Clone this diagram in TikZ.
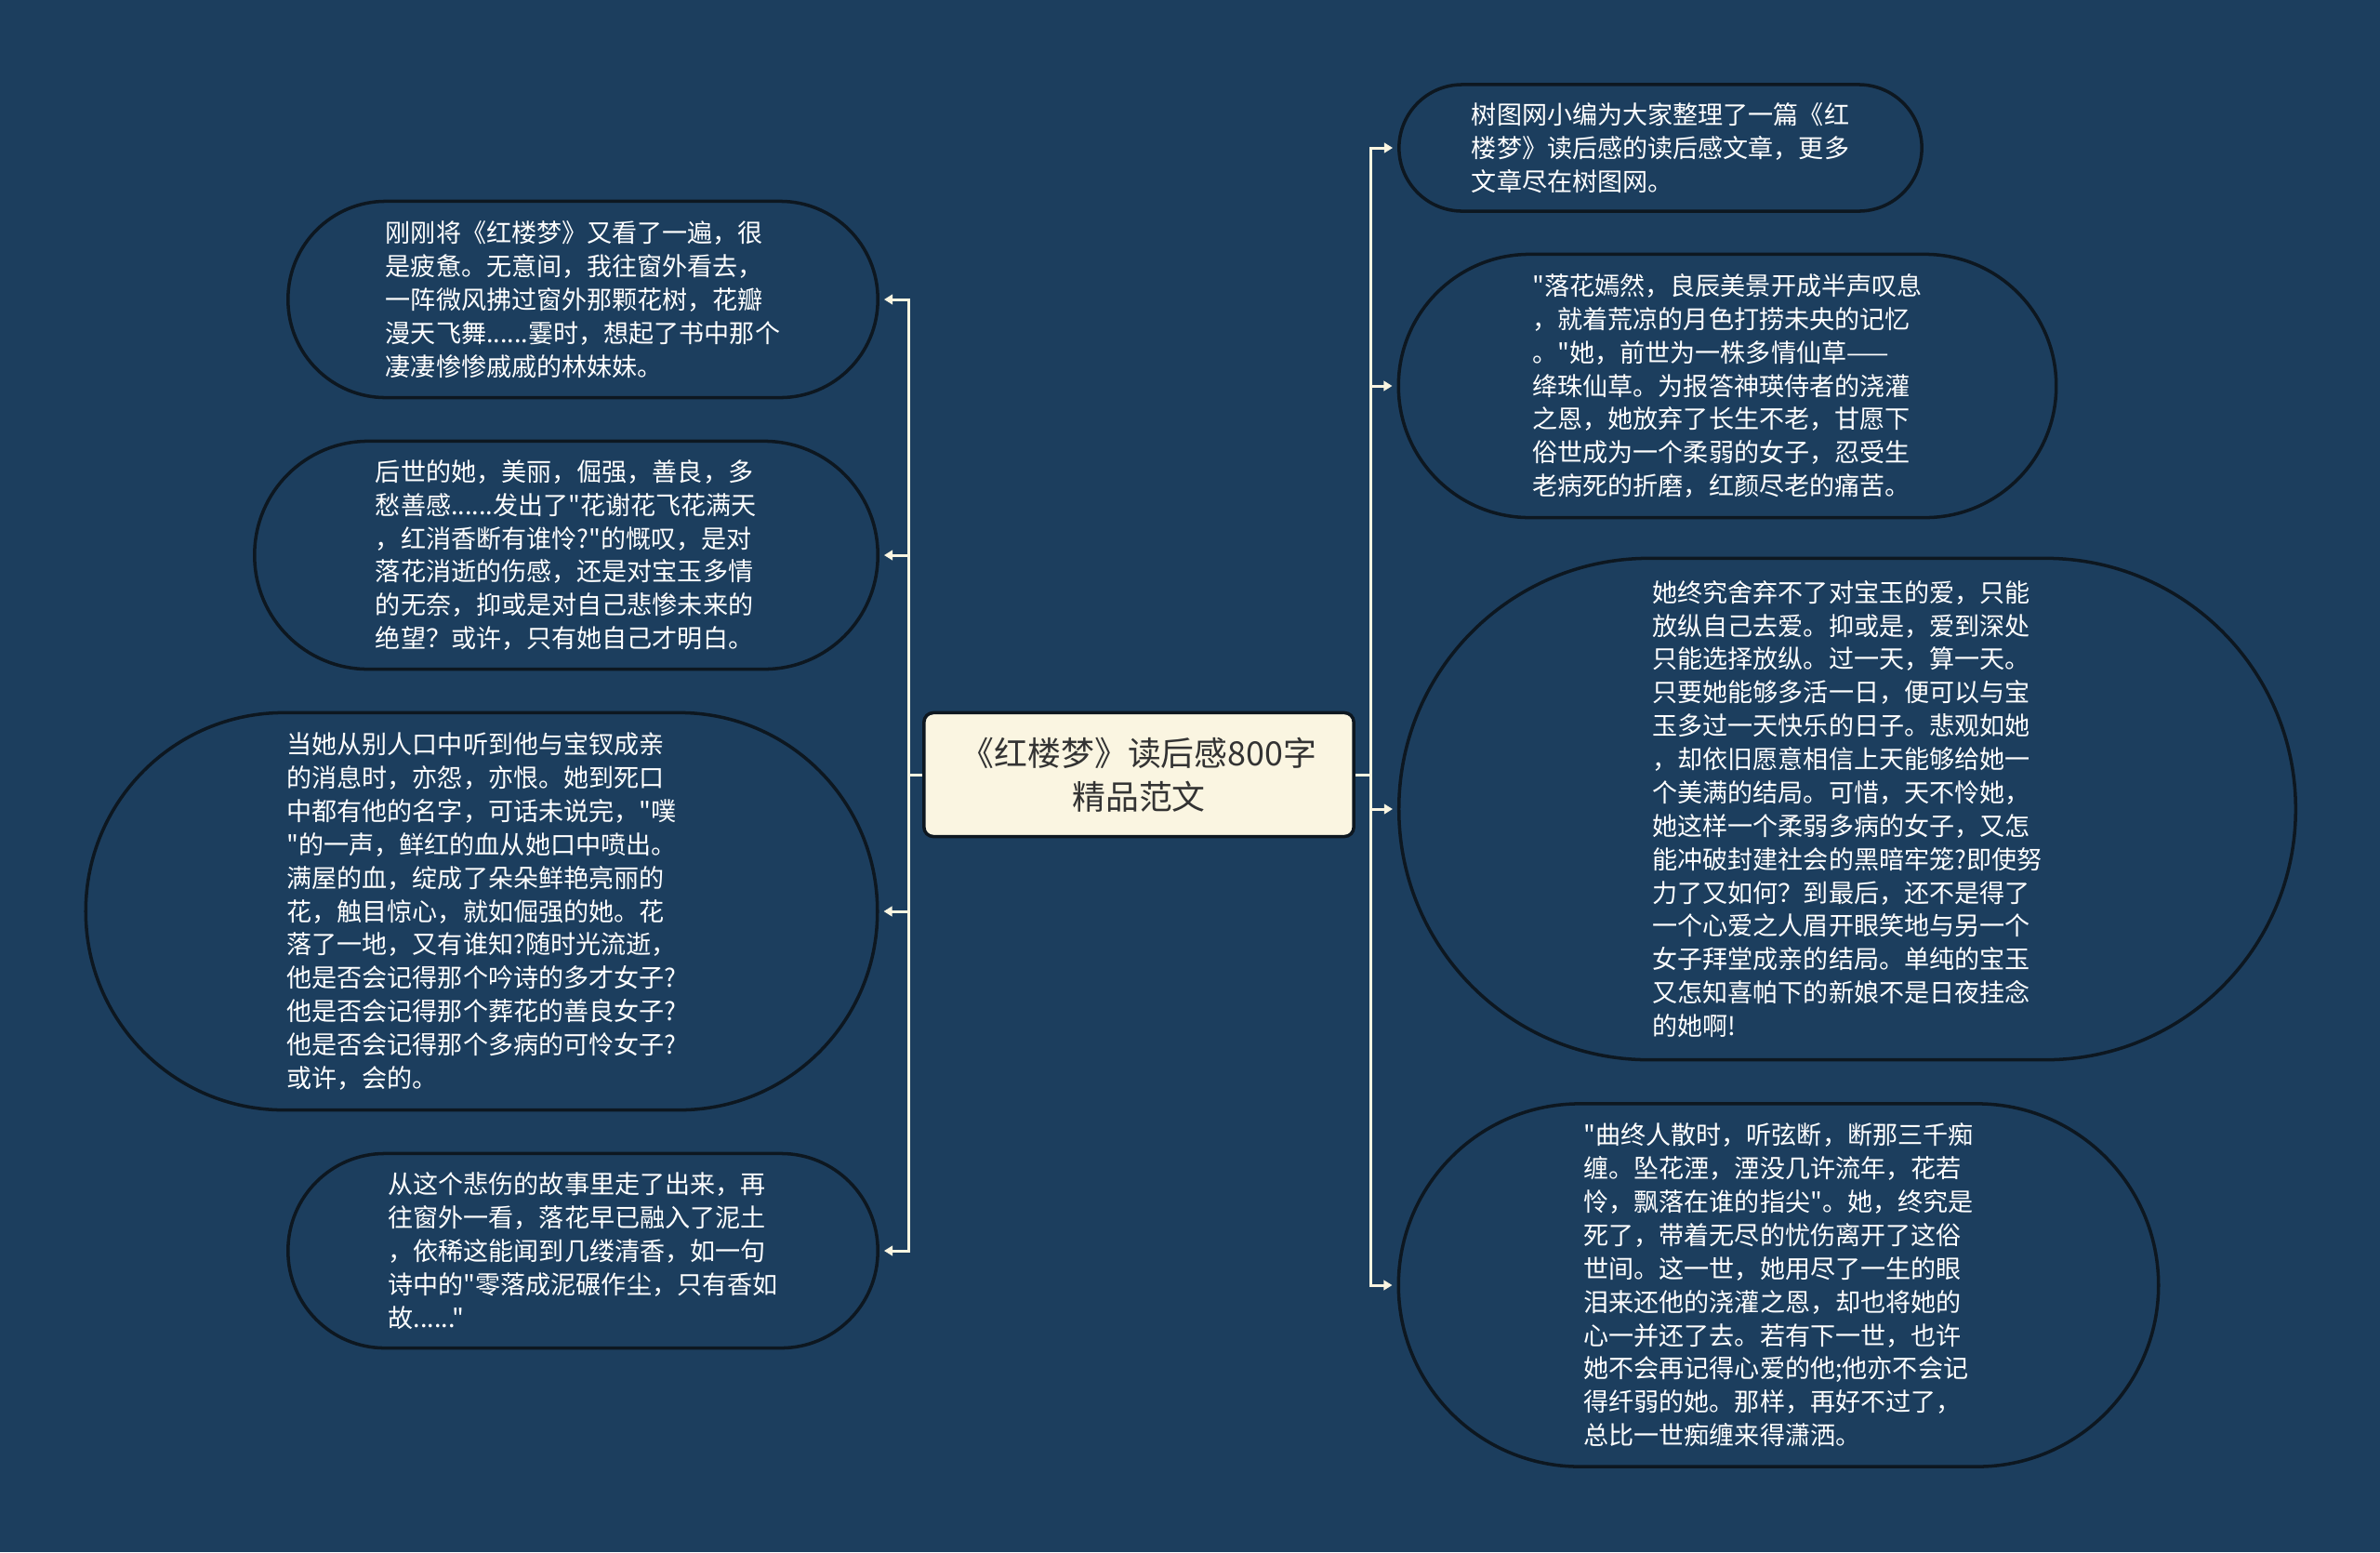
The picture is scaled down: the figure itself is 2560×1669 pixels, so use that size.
\documentclass[tikz,border=0pt]{standalone}
\usepackage{fontspec}
\setmainfont{Noto Sans CJK SC}[Ligatures=TeXOff]
\usetikzlibrary{arrows.meta}
\definecolor{bgblue}{HTML}{1C3E5E}
\definecolor{rimdark}{HTML}{0D1720}
\definecolor{cream}{HTML}{FAF5E1}
\definecolor{titletext}{HTML}{333333}
\tikzset{
  pill/.style={
    draw=rimdark,
    line width=1pt,
    rectangle,
    fill=bgblue,
    text=white,
    align=left,
    inner sep=0pt,
    font=\fontsize{7.7pt}{10.2pt}\selectfont,
  },
  root/.style={
    draw=rimdark,
    line width=1pt,
    rectangle,
    rounded corners=0.1cm,
    fill=cream,
    text=titletext,
    align=center,
    minimum width=4.62cm,
    minimum height=1.33cm,
    font=\fontsize{10.2pt}{13.4pt}\selectfont,
  },
  line/.style={draw=cream, line width=0.85pt},
  arr/.style={line, -{Triangle[length=2.6pt, width=3pt]}, shorten >=0.05cm},
}
\begin{document}
\begin{tikzpicture}[x=0.01cm, y=-0.01cm]
  \fill[bgblue] (0,0) rectangle (2560,1669);

  \node[root] (top) at (1225,833) {《红楼梦》读后感800字\\精品范文};

  % left side
  \node[pill, minimum width=6.34cm, minimum height=2.11cm, rounded corners=1.05cm] (l1) at (627,322)
    {刚刚将《红楼梦》又看了一遍，很\\是疲惫。无意间，我往窗外看去，\\一阵微风拂过窗外那颗花树，花瓣\\漫天飞舞......霎时，想起了书中那个\\凄凄惨惨戚戚的林妹妹。};
  \node[pill, minimum width=6.70cm, minimum height=2.45cm, rounded corners=1.22cm] (l2) at (609,597)
    {后世的她，美丽，倔强，善良，多\\愁善感......发出了"花谢花飞花满天\\，红消香断有谁怜?"的慨叹，是对\\落花消逝的伤感，还是对宝玉多情\\的无奈，抑或是对自己悲惨未来的\\绝望？或许，只有她自己才明白。};
  \node[pill, minimum width=8.51cm, minimum height=4.27cm, rounded corners=2.13cm] (l3) at (518,980)
    {当她从别人口中听到他与宝钗成亲\\的消息时，亦怨，亦恨。她到死口\\中都有他的名字，可话未说完，"噗\\"的一声，鲜红的血从她口中喷出。\\满屋的血，绽成了朵朵鲜艳亮丽的\\花，触目惊心，就如倔强的她。花\\落了一地，又有谁知?随时光流逝，\\他是否会记得那个吟诗的多才女子?\\他是否会记得那个葬花的善良女子?\\他是否会记得那个多病的可怜女子?\\或许，会的。};
  \node[pill, minimum width=6.34cm, minimum height=2.09cm, rounded corners=1.04cm] (l4) at (627,1345)
    {从这个悲伤的故事里走了出来，再\\往窗外一看，落花早已融入了泥土\\，依稀这能闻到几缕清香，如一句\\诗中的"零落成泥碾作尘，只有香如\\故......"};

  % right side
  \node[pill, minimum width=5.62cm, minimum height=1.36cm, rounded corners=0.68cm] (r1) at (1786,159)
    {树图网小编为大家整理了一篇《红\\楼梦》读后感的读后感文章，更多\\文章尽在树图网。};
  \node[pill, minimum width=7.07cm, minimum height=2.83cm, rounded corners=1.41cm] (r2) at (1858,415)
    {"落花嫣然，良辰美景开成半声叹息\\，就着荒凉的月色打捞未央的记忆\\。"她，前世为一株多情仙草——\\绛珠仙草。为报答神瑛侍者的浇灌\\之恩，她放弃了长生不老，甘愿下\\俗世成为一个柔弱的女子，忍受生\\老病死的折磨，红颜尽老的痛苦。};
  \node[pill, minimum width=9.64cm, minimum height=5.39cm, rounded corners=2.69cm] (r3) at (1987,870)
    {她终究舍弃不了对宝玉的爱，只能\\放纵自己去爱。抑或是，爱到深处\\只能选择放纵。过一天，算一天。\\只要她能够多活一日，便可以与宝\\玉多过一天快乐的日子。悲观如她\\，却依旧愿意相信上天能够给她一\\个美满的结局。可惜，天不怜她，\\她这样一个柔弱多病的女子，又怎\\能冲破封建社会的黑暗牢笼?即使努\\力了又如何？到最后，还不是得了\\一个心爱之人眉开眼笑地与另一个\\女子拜堂成亲的结局。单纯的宝玉\\又怎知喜帕下的新娘不是日夜挂念\\的她啊!};
  \node[pill, minimum width=8.17cm, minimum height=3.90cm, rounded corners=1.95cm] (r4) at (1913,1382)
    {"曲终人散时，听弦断，断那三千痴\\缠。坠花湮，湮没几许流年，花若\\怜，飘落在谁的指尖"。她，终究是\\死了，带着无尽的忧伤离开了这俗\\世间。这一世，她用尽了一生的眼\\泪来还他的浇灌之恩，却也将她的\\心一并还了去。若有下一世，也许\\她不会再记得心爱的他;他亦不会记\\得纤弱的她。那样，再好不过了，\\总比一世痴缠来得潇洒。};

  \coordinate (lt) at (977,833);
  \coordinate (rt) at (1474,833);

  \draw[line] (top.west) -- (lt);
  \foreach \n in {l1,l2,l3,l4}
    \draw[arr] (lt) |- (\n.east);
  \draw[line] (top.east) -- (rt);
  \foreach \n in {r1,r2,r3,r4}
    \draw[arr] (rt) |- (\n.west);
\end{tikzpicture}
\end{document}
